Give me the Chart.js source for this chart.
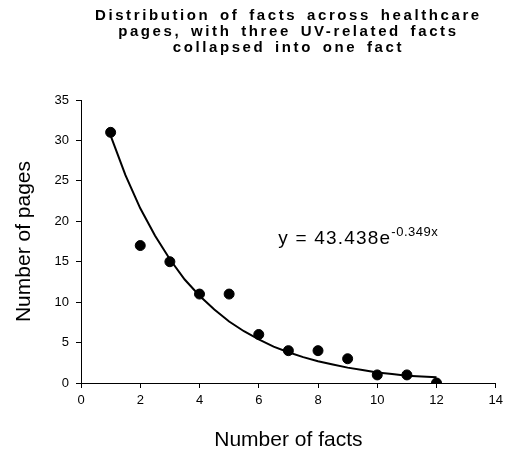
<!DOCTYPE html>
<html>
<head>
<meta charset="utf-8">
<script src="https://cdn.jsdelivr.net/npm/chart.js@4/dist/chart.umd.min.js"></script>
<style>
  html, body { margin: 0; padding: 0; background: #fff; }
  #wrap { width: 508px; height: 453px; }
</style>
</head>
<body>
<div id="wrap"><canvas id="graph_facts"></canvas></div>
<script>
// donnees
var nb_facts = [1, 2, 3, 4, 5, 6, 7, 8, 9, 10, 11, 12];
var nb_pages = [31, 17, 15, 11, 11, 6, 4, 4, 3, 1, 1, 0];

// courbe de tendance
var trend_x = [1, 1.5, 2, 2.5, 3, 3.5, 4, 4.5, 5, 5.5, 6, 6.5, 7, 7.5, 8, 8.5, 9, 9.5, 10, 10.5, 11, 11.5, 12];
var trend_y = [30.6, 25.7, 21.6, 18.2, 15.3, 12.8, 10.8, 9.1, 7.6, 6.4, 5.4, 4.5, 3.8, 3.2, 2.7, 2.3, 1.9, 1.6, 1.3, 1.1, 0.9, 0.8, 0.7];

var titre = ['Distribution of facts across healthcare', 'pages, with three UV-related facts', 'collapsed into one fact'];
var equation = 'y = 43.438e';
var exposant = '-0.349x';

var police = "'Liberation Sans', Arial, sans-serif";

// titre avec espacement des lettres + equation
var textes = {
  id: 'textes',
  afterDraw: function(chart) {
    var ctx = chart.ctx;
    var ca = chart.chartArea;
    ctx.save();
    ctx.fillStyle = '#000';
    ctx.textAlign = 'center';
    ctx.textBaseline = 'middle';
    ctx.font = 'bold 15px ' + police;
    ctx.letterSpacing = '2.6px';
    ctx.wordSpacing = '3px';
    var cx = (ca.left + ca.right) / 2;
    for (var i = 0; i < titre.length; i++) {
      ctx.fillText(titre[i], cx, 16 + i * 16);
    }
    ctx.wordSpacing = '0px';
    // equation
    var px = chart.scales.x.getPixelForValue(6.66);
    var py = chart.scales.y.getPixelForValue(17.2);
    ctx.textAlign = 'left';
    ctx.textBaseline = 'alphabetic';
    ctx.font = '19px ' + police;
    ctx.letterSpacing = '1.2px';
    ctx.fillText(equation, px, py);
    var w = ctx.measureText(equation).width;
    ctx.font = '13px ' + police;
    ctx.letterSpacing = '0.5px';
    ctx.fillText(exposant, px + w, py - 8);
    ctx.restore();
  }
};

function graphique() {
  var getElem = document.getElementById('graph_facts').getContext('2d');
  var points = nb_facts.map(function(x, i) { return {x: x, y: nb_pages[i]}; });
  var tendance = trend_x.map(function(x, i) { return {x: x, y: trend_y[i]}; });
  var monGraph = new Chart(getElem, {
    type: 'scatter',
    data: {
      datasets: [
        {
          label: 'Pages',
          data: points,
          backgroundColor: '#000',
          borderColor: '#000',
          pointRadius: 5,
          pointHoverRadius: 5,
          order: 1
        },
        {
          label: 'Tendance',
          data: tendance,
          type: 'line',
          showLine: true,
          borderColor: '#000',
          borderWidth: 2,
          pointRadius: 0,
          tension: 0,
          fill: false,
          order: 2
        }
      ]
    },
    options: {
      responsive: true,
      maintainAspectRatio: false,
      animation: false,
      layout: { padding: { top: 100, right: 9, left: 0, bottom: 0 } },
      plugins: {
        legend: { display: false },
        tooltip: { enabled: false },
        title: { display: false }
      },
      scales: {
        x: {
          type: 'linear',
          min: 0, max: 14,
          ticks: { stepSize: 2, color: '#000', font: { size: 13, family: police }, padding: 5 },
          grid: { drawOnChartArea: false, color: '#000', tickLength: 5, tickWidth: 1 },
          border: { color: '#000', width: 1 },
          title: { display: true, text: 'Number of facts', color: '#000', font: { size: 21, family: police }, padding: { top: 4, bottom: 0 } },
          afterFit: function(s) { s.height = 70; }
        },
        y: {
          min: 0, max: 35,
          ticks: { stepSize: 5, color: '#000', font: { size: 13, family: police }, padding: 7 },
          grid: { drawOnChartArea: false, color: '#000', tickLength: 5, tickWidth: 1 },
          border: { color: '#000', width: 1 },
          title: { display: true, text: 'Number of pages', color: '#000', font: { size: 21, family: police }, padding: { top: 12, bottom: 0 } },
          afterFit: function(s) { s.width = 81; }
        }
      }
    },
    plugins: [textes]
  });
}

graphique();
</script>
</body>
</html>
